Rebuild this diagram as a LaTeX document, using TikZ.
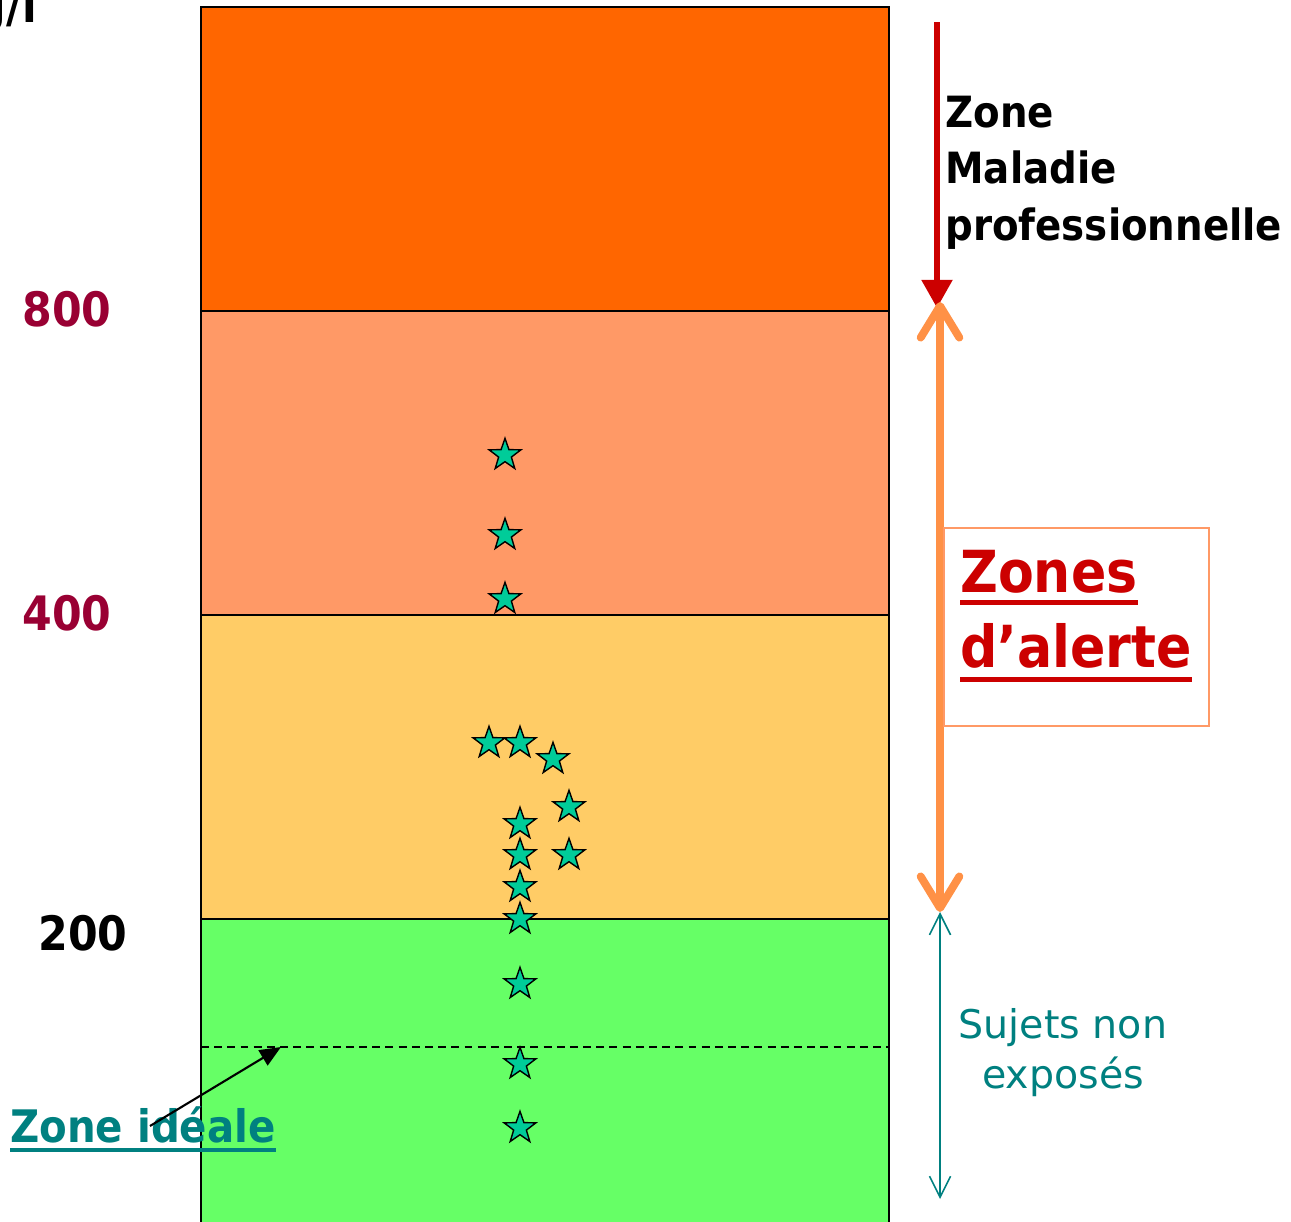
\documentclass[tikz,border=0pt]{standalone}
\usepackage{fontspec}
\setmainfont{DejaVu Sans}
\newfontfamily\cond{DejaVu Sans Condensed}
\usetikzlibrary{arrows.meta,shapes.geometric}
\definecolor{maladie}{HTML}{FF6600}
\definecolor{alerte}{HTML}{FF9966}
\definecolor{seuil}{HTML}{FFCC66}
\definecolor{normal}{HTML}{66FF66}
\definecolor{etoilefill}{HTML}{00CC99}
\definecolor{bordeaux}{HTML}{990033}
\definecolor{rouge}{HTML}{CC0000}
\definecolor{orangeflt}{RGB}{255,145,70}
\definecolor{sarcelle}{HTML}{008080}
% soulignement epais : #1 = profondeur, #2 = epaisseur, #3 = texte
\newcommand{\souligne}[3]{\setbox0\hbox{#3}\leavevmode\rlap{\rule[-#1]{\wd0}{#2}}\box0}
\tikzset{
  etoile/.style={star, star points=5, star point ratio=2.5, draw=black, fill=etoilefill,
    line width=0.8pt, minimum size=19pt, inner sep=0pt},
  bande/.style={draw=black, line width=1.1pt},
  valeur/.style={font=\cond\bfseries\fontsize{27}{32}\selectfont, anchor=base east, inner sep=0pt},
}
\begin{document}
\begin{tikzpicture}[x=0.02cm, y=-0.02cm]
\useasboundingbox (0,0) rectangle (1291,1221);
% bandes
\path[bande, fill=maladie] (201,7) rectangle (889,311);
\path[bande, fill=alerte] (201,311) rectangle (889,615);
\path[bande, fill=seuil] (201,615) rectangle (889,919);
\path[bande, fill=normal] (201,919) rectangle (889,1230);
\draw[dash pattern=on 4.5pt off 3pt, line width=0.8pt] (201,1047) -- (889,1047);
% axe
\node[valeur] (unite) at (37,22) {µg/l};
\node[valeur, text=bordeaux] (v800) at (112,326) {800};
\node[valeur, text=bordeaux] (v400) at (112,630) {400};
\node[valeur] (v200) at (128,950) {200};
% sujets
\node[etoile] (s1) at (505,455) {};
\node[etoile] (s2) at (505,535) {};
\node[etoile] (s3) at (505,599) {};
\node[etoile] (s4) at (489,743) {};
\node[etoile] (s5) at (520,743) {};
\node[etoile] (s6) at (553,759) {};
\node[etoile] (s7) at (569,807) {};
\node[etoile] (s8) at (520,824) {};
\node[etoile] (s9) at (520,855) {};
\node[etoile] (s10) at (569,855) {};
\node[etoile] (s11) at (520,887) {};
\node[etoile] (s12) at (520,919) {};
\node[etoile] (s13) at (520,984) {};
\node[etoile] (s14) at (520,1064) {};
\node[etoile] (s15) at (520,1128) {};
% zones
\coordinate (rtop) at (937,22);
\coordinate (rbot) at (937,308);
\coordinate (otop) at (940,302);
\coordinate (obot) at (940,912);
\coordinate (tbot) at (940,1199);
\coordinate (ideal) at (281,1047);
\draw[rouge, line width=3.2pt, -{Triangle[length=16pt,width=17pt]}] (rtop) -- (rbot);
\draw[orangeflt, line width=4.5pt, {Straight Barb[length=18pt,width=22pt,round]}-{Straight Barb[length=18pt,width=22pt,round]}] (otop) -- (obot);
\draw[sarcelle, line width=0.9pt, {Straight Barb[length=12pt,width=12pt]}-{Straight Barb[length=12pt,width=12pt]}] (obot) -- (tbot);
\node[font=\cond\bfseries\fontsize{24.5}{30}\selectfont, anchor=base west, inner sep=0pt] (zm1) at (945,127) {Zone};
\node[font=\cond\bfseries\fontsize{24.5}{30}\selectfont, anchor=base west, inner sep=0pt] (zm2) at (945,183) {Maladie};
\node[font=\cond\bfseries\fontsize{24.5}{30}\selectfont, anchor=base west, inner sep=0pt] (zm3) at (945,240) {professionnelle};
\node[draw=alerte, line width=1pt, minimum width=150.8pt, minimum height=112.8pt, anchor=north west] (alertbox) at (943,527) {};
\node[text=rouge, font=\cond\bfseries\fontsize{33}{40}\selectfont, anchor=base west, inner sep=0pt] (za1) at (960,592) {\souligne{7.6pt}{2.8pt}{Zones}};
\node[text=rouge, font=\cond\bfseries\fontsize{33}{40}\selectfont, anchor=base west, inner sep=0pt] (za2) at (960,667) {\souligne{8.6pt}{2.8pt}{d’alerte}};
\node[text=sarcelle, font=\fontsize{22.5}{28}\selectfont, align=center, anchor=base, inner sep=0pt] (sne) at (1063,1088) {Sujets non\\exposés};
\node[text=sarcelle, font=\cond\bfseries\fontsize{25.5}{30}\selectfont, anchor=base west, inner sep=0pt] (zi) at (10,1142) {\souligne{5.6pt}{2.3pt}{Zone idéale}};
\draw[line width=1.2pt, -{Triangle[length=12pt,width=10pt]}] (150,1126) -- (ideal);
\end{tikzpicture}
\end{document}
